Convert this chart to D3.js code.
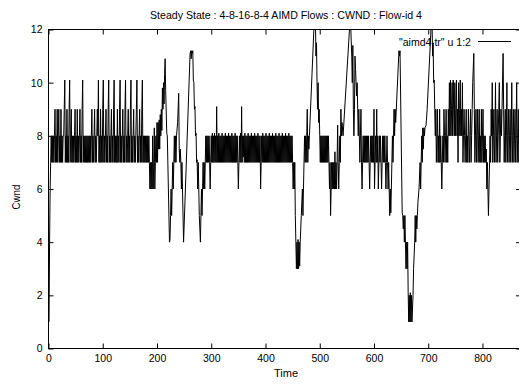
<!DOCTYPE html>
<html><head><meta charset="utf-8">
<script src="https://cdn.jsdelivr.net/npm/d3@7"></script>
<style>
body{margin:0;background:#fff}
svg{display:block}
text{font-family:"Liberation Sans",Arial,Helvetica,sans-serif;fill:#000}
</style>
</head><body><div id="chart"></div>
<script>
const chartTitle = "Steady State : 4-8-16-8-4 AIMD Flows : CWND : Flow-id 4";
const xLabel = "Time";
const yLabel = "Cwnd";
const legendLabel = "\"aimd4.tr\" u 1:2";
const xTicks = [0,100,200,300,400,500,600,700,800];
const yTicks = [0,2,4,6,8,10,12];
const xDomain = [0, 871];
const yDomain = [0, 12];

// [time, cwnd]
const trace = [
[0,1],[1,1],[2,4],[3,6],[4,7],[5,8],[6,7],[7,8],
[8,7],[9,8],[10,7],[11,8],[12,9],[13,7],[14,8],[15,7],[16,9],[17,7],[18,8],[19,9],[20,7],[21,8],[22,7],[23,9],[24,7],[25,8],[26,7],[27,8],
[28,8],[29,9],[30,10.1],[31,7],[32,8],[33,7],[34,9],[35,7],[36,8],[37,7],[38,9],[39,10.1],[40,7],[41,8],[42,9],[43,7],[44,8],[45,7],[46,8],[47,7],[48,8],[49,9],[50,7],[51,8],[52,7],[53,9],[54,7],[55,8],[56,7],[57,8],[58,9],[59,7],[60,8],[61,7],[62,9],[63,10.1],[64,7],
[65,8],[66,7],[67,8],[68,7],[69,8],[70,7],[71,8],[72,7],[73,8],[74,7],[75,8],[76,7],[77,8],[78,7],[79,8],[80,9],[81,7],[82,8],[83,7],[84,8],[85,9],[86,7],[87,8],[88,7],[89,8],[90,9],
[91,8],[92,10.1],[93,7],[94,8],[95,7],[96,9],[97,7],[98,8],[99,7],[100,9],
[101,10.1],[102,7],[103,8],[104,7],[105,8],[106,9],[107,7],[108,8],[109,7],[110,9],
[111,10.1],[112,7],[113,8],[114,7],[115,8],[116,9],[117,7],[118,8],[119,7],[120,9],
[121,10.1],[122,7],[123,8],[124,7],[125,8],[126,7],[127,9],[128,7],[129,8],[130,7],[131,9],
[132,10.1],[133,7],[134,8],[135,7],[136,8],[137,9],[138,7],[139,8],[140,7],[141,9],
[142,10.1],[143,7],[144,8],[145,7],[146,8],[147,9],[148,7],[149,8],[150,7],[151,9],
[152,10.1],[153,7],[154,8],[155,7],[156,8],[157,9],[158,7],[159,8],[160,7],[161,8],[162,9],
[163,10.1],[164,7],[165,8],[166,7],[167,8],[168,9],[169,7],[170,8],[171,7],[172,9],
[173,10.1],[174,7],
[175,8],[176,7],[177,8],[178,7],[179,8],[180,7],[181,8],[182,7],[183,8],[184,7],[185,8],[186,7],[187,6],[188,7],[189,6],[190,7],[191,6],[192,8],[193,6],[194,7],[195,8.3],[196,6],[197,7],[198,8],[199,7],[200,8.5],
[201,7],[202,8.5],[203,7.5],[204,8.6],[205,7.5],[206,8.8],[207,8],[208,9],[209,8.2],[210,9.8],[211,9],[212,10],[213,9.2],[214,10.3],[215,10.9],
[216,9.7],[218,8.1],[219,8],[223,4],[224,4.1],[225,5],[226,6],[227,5],[228,6],[229,7],[230,6],[231,7],[232,8],[233,7],[234,8],[235,7],[236,8],[238,8.5],[240,9.6],[241,7.5],[242,7],[243,7.5],[244,7],[245,6],[246,7],[247,6],[249,4],
[261,11.1],[262,11.2],[263,10.9],[264,11.2],[265,11.1],[266,11.2],[267,10.1],[268,10],[269,9],[270,9.1],[271,8],[272,8.1],[273,7],[274,7.1],[275,6],[276,7],[277,6],[278,5],[280,4],[281,5],[282,6],[283,5],[284,6],[285,7],[286,6],[287,7],[288,6],[289,7],[290,8],[291,7],[292,8],[293,7],[294,8],[295,7],[296,8],[297,7],[298,6],[299,7],[300,8],[301,7],
[302,8.1],[303,7],[304,8],[305,7],[306,8.1],[307,7],[308,8],[309,7],[310,9.1],[311,7],[312,8],[313,7],[314,8.1],[315,7],[316,8],[317,7],[318,8],[319,7],[320,8.1],[321,7],[322,8],[323,7],[324,8],[325,7],[326,8.1],[327,7],[328,8],[329,7],[330,8],[331,7],[332,8.1],[333,7],[334,8],[335,7],[336,8],[337,7],[338,8.1],[339,7],[340,8],[341,7],[342,8],[343,7],[344,8.1],[345,7],[346,8],[347,7],[348,8],[349,7],[350,6],[351,7],[352,8],[353,7],[354,8.1],[355,7],[356,9.1],[357,7],[358,8],[359,7.2],[360,8],[361,7],[362,8.1],[363,7],[364,8],[365,7],[366,8],[367,7],[368,8.1],[369,7],[370,8],[371,7],[372,8],[373,7],[374,8.1],[375,7],[376,8],[377,7],[378,8],[379,7],[380,8.1],[381,7],[382,8],[383,7],[384,8],[385,7],[386,8.1],[387,7],[388,8],[389,7],[390,8],[391,6],[392,7],[393,8],[394,7],[395,8.1],[396,7],[397,8],[398,7],[399,8],[400,7],[401,8.1],[402,7],[403,8],[404,7],[405,8],[406,7],[407,8.1],[408,7],[409,8],[410,7],[411,8],[412,7],[413,8.1],[414,7],[415,8],[416,7],[417,8],[418,7],[419,8.1],[420,7],[421,8],[422,7],[423,8],[424,7],[425,8.1],[426,7],[427,8],[428,7],[429,8],[430,7],[431,8.1],[432,7],[433,8],[434,7],[435,8],[436,7],[437,8.1],[438,7],[439,8],[440,7],[441,8],[442,7],[443,8.1],[444,7],[445,8],[446,7],[447,8],[448,7],
[449,8],[450,7],[451,6],[452,7],[453,6],[454,7],[455,5],[456,4],[457,3],[458,4],[459,3],[460,4.1],[461,3],[462,4],[463,3.1],[464,4],[466,5],[468,6],[469,5],[470,6],[471,7],[472,8],[473,7],[474,8],[475,7],[476,8],[477,9],[478,7],[479,8],[480,7.5],
[481,8],[490,12.4],[491,12.2],[492,12.4],[493,11],[494,11.5],[495,10],[496,9],[497,10],[498,8.5],[499,9],[500,8],[501,7],[502,8],[503,7],[504,8],[505,7],[506,8],[507,7],[508,8],[509,7],[510,8],[511,7],[512,8],[513,7],[514,8],[515,7],[516,8],[517,7],[518,6],[519,7],[520,5],[521,6],[522,7],[523,6],[524,7],[525,6],[526,7],[527,6],[528,7.4],[529,6],[530,7],[531,6],[532,7],[533,8.4],[534,7],[535,6],[536,7],[537,8],[538,7],[539,9],[540,8],
[541,8.5],[543,8],[556,12.4],[557,12.2],[558,11.6],[559,11],[560,10],[561,11.4],[562,9],[563,8],[564,9],[565,11],[566,10.5],[567,10],[568,9.5],[569,10],[570,9],[571,8],[572,9],[573,8],[574,7],
[575,8],[576,9],[577,7],[578,6],[579,7],[580,8],[581,7],[582,8],[583,7],[584,8],[585,7],[586,8],[587,7],[588,8],[589,7],[590,8],[591,7],[592,6],[593,7],[594,8],[595,7],[596,8],[597,7],[598,8],[599,7],[600,9],[601,6],[602,7],[603,8],[604,7],[605,9],[606,7],[607,8],[608,6],[609,7],[610,8],[611,7],[612,8],[613,7],[614,6],[615,7],[616,8],[617,7],[618,8],[619,7],[620,8],[621,7],[622,6],[623,7],[624,8],[625,7],[626,6],
[627,7],[628,6],[629,5],[630,6],[631,5.1],[632,6],[633,7],[634,8],[635,7],[636,8],[637,9],[638,8],[639,9],[640,8.5],[646,11.2],[647,11],[648,11.2],
[652,5.1],[653,5],[654,4.5],[655,5],[656,4],[657,5],[658,4],[659,3],[660,4],[661,3],[662,4],[663,2.1],[664,1],[665,2],[666,1],[667,2.1],[668,1],[669,2],[670,1],
[672,2],[673,3],[675,4],[676,5],[677,4],[678,5],[679,4.5],[680,5],[681,5.5],[683,6],[685,7],[686,6],[687,7],[688,8],[689,7],[690,8.3],[691,7.5],[692,8.3],[693,8],[694,8.3],[696,8.4],[698,9],[706,12.4],[707,12.4],[708,11],[709,11.5],[710,10],[711,10.1],[712,9],[713,8],[714,9],[715,7],[716,8],[717,9],[718,7],[719,8],[720,7],[721,9],[722,7],[723,8],[724,7],[725,6],[726,7],[727,8],[728,7],[729,9],[730,8],[731,7],[732,8],[733,9],[734,7],[735,8],[736,7],[737,9],[738,8],
[739,10],[740,8],[741,10.1],[742,8],[743,9],[744,10],[745,8],[746,10.1],[747,9],[748,8],[749,10],[750,8],[751,9],[752,10.1],[753,8],[754,9],[755,7],[756,10],[757,8],[758,9],[759,10.1],[760,8],[761,9],[762,8],[763,10],[764,7],[765,8],[766,9],[767,8],[768,7],[769,8],[770,9],
[771,7],[772,8],[773,7],[774,9],[775,8],[776,7],[777,8],[778,9],[779,7],[780,8],[781,9],[782,10],[784,11.1],[785,9],[786,7],[787,8],[788,9],[789,7],[790,8],
[791,9],[792,7],[793,8],[794,9],[795,7],[796,8],[797,7],[798,9],[799,7],[800,8],[801,9],[802,7],[803,8],[804,7],[805,8],[806,7],[807,7.5],[808,6],[809,7],[810,6],[811,5],[812,6],[813,7],[814,8],
[815,7],[816,9],[817,8],[818,10],[819,7],[820,8],[821,9],[822,7],[823,8],[824,10],[825,7],[826,8],[827,9],[828,7],[829,8],[830,9],[831,10],[832,7],[833,8],[834,9],[835,8],[836,9],[838,11.1],[839,9],[840,7],[841,8],[842,9],[843,7],[844,8],[845,10],[846,7],[847,8],[848,9],[849,7],[850,8],[851,9],[852,7],[853,8],[854,10],[855,7],[856,8],[857,9],[858,7],[859,8],[860,9],[861,7],[862,8],[863,10],[864,7],[865,8],[866,9],[867,7],[868,8]
];

const W = 519, H = 386;
const pLeft = 48.5, pRight = 521, pTop = 29.5, pBottom = 348.5;

const svg = d3.select("#chart").append("svg").attr("width", W).attr("height", H);

const x = d3.scaleLinear().domain(xDomain).range([pLeft, pRight]);
const y = d3.scaleLinear().domain(yDomain).range([pBottom, pTop]);

svg.append("defs").append("clipPath").attr("id","plotclip")
  .append("rect").attr("x", pLeft).attr("y", pTop).attr("width", pRight-pLeft).attr("height", pBottom-pTop);

// data line
const line = d3.line().x(d => x(d[0])).y(d => y(d[1]));
svg.append("path").datum(trace)
  .attr("clip-path","url(#plotclip)")
  .attr("d", line).attr("fill","none").attr("stroke","#000").attr("stroke-width",1);

// axes
const fontSize = "10.5px";
const gx = svg.append("g").attr("transform", `translate(0,${pBottom})`)
  .call(d3.axisBottom(x).tickValues(xTicks).tickSize(-5).tickPadding(6).tickFormat(d3.format("d")));
const gxt = svg.append("g").attr("transform", `translate(0,${pTop})`)
  .call(d3.axisTop(x).tickValues(xTicks).tickSize(-5).tickFormat(""));
const gy = svg.append("g").attr("transform", `translate(${pLeft},0)`)
  .call(d3.axisLeft(y).tickValues(yTicks).tickSize(-5).tickPadding(6).tickFormat(d3.format("d")));
const gyr = svg.append("g").attr("transform", `translate(${pRight},0)`)
  .call(d3.axisRight(y).tickValues(yTicks).tickSize(-5).tickFormat(""));
[gx,gxt,gy,gyr].forEach(g => {
  g.select(".domain").remove();
  g.selectAll(".tick line").attr("stroke","#000").attr("stroke-width",1);
  g.selectAll("text").attr("font-family",'"Liberation Sans",Arial,sans-serif').attr("font-size",fontSize).attr("fill","#000");
});

// border
svg.append("rect").attr("x", pLeft).attr("y", pTop).attr("width", pRight-pLeft).attr("height", pBottom-pTop)
  .attr("fill","none").attr("stroke","#000").attr("stroke-width",1);

// title
svg.append("text").attr("x", 286).attr("y", 19).attr("text-anchor","middle")
  .attr("font-size","11px").attr("textLength", 272).attr("lengthAdjust","spacingAndGlyphs")
  .text(chartTitle);

// x label
svg.append("text").attr("x", 286).attr("y", 377).attr("text-anchor","middle")
  .attr("font-size","11px").text(xLabel);

// y label
svg.append("text").attr("transform","translate(20,197) rotate(-90)").attr("text-anchor","middle")
  .attr("font-size","11px").attr("textLength", 25).attr("lengthAdjust","spacingAndGlyphs").text(yLabel);

// legend
svg.append("text").attr("x", 471).attr("y", 45.5).attr("text-anchor","end")
  .attr("font-size","11px").attr("textLength", 72).attr("lengthAdjust","spacingAndGlyphs").text(legendLabel);
svg.append("line").attr("x1", 478).attr("x2", 511).attr("y1", 41.5).attr("y2", 41.5)
  .attr("stroke","#000").attr("stroke-width",1);
</script>
</body></html>
